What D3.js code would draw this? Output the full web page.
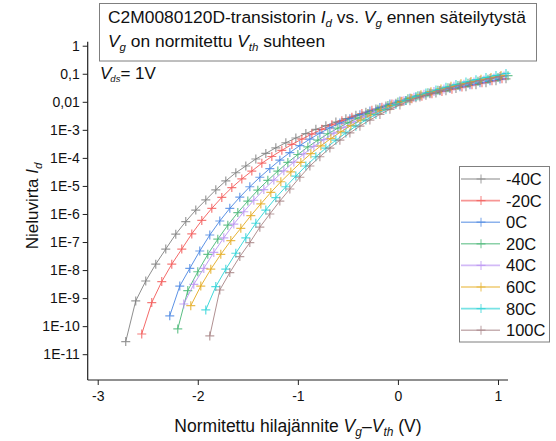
<!DOCTYPE html>
<html>
<head>
<meta charset="utf-8">
<script src="https://cdn.jsdelivr.net/npm/d3@7"></script>
<style>
  body { margin: 0; background: #fff; }
  svg { display: block; font-family: "Liberation Sans", Arial, sans-serif; }
</style>
</head>
<body>
<svg id="chart" width="556" height="441"></svg>
<script>
// Id vs normalised gate voltage, one curve per temperature.
// Currents as log10(Id) and turned back into amps.
var temps = ["-40C", "-20C", "0C", "20C", "40C", "60C", "80C", "100C"];
var colors = ["#7a7a7a", "#f2504f", "#3f7fe0", "#3db36e", "#b68cf2", "#e2a613", "#1fd0d4", "#a27c7e"];

var vM40 = [-2.72,-2.62,-2.52,-2.42,-2.32,-2.22,-2.12,-2.02,-1.92,-1.82,-1.72,-1.62,-1.52,-1.42,-1.32,-1.22,-1.12,-1.02,-0.92,-0.82,-0.72,-0.62,-0.52,-0.42,-0.32,-0.22,-0.12,-0.02,0.08,0.18,0.28,0.38,0.48,0.58,0.68,0.78,0.88,0.98,1.08];
var logIdM40 = [-10.55,-9.10,-8.39,-7.79,-7.25,-6.72,-6.27,-5.86,-5.50,-5.14,-4.82,-4.53,-4.29,-4.04,-3.84,-3.64,-3.46,-3.29,-3.13,-2.98,-2.85,-2.72,-2.60,-2.48,-2.37,-2.26,-2.15,-2.05,-1.95,-1.86,-1.77,-1.69,-1.61,-1.53,-1.46,-1.39,-1.32,-1.25,-1.18];

var vM20 = [-2.56,-2.46,-2.36,-2.26,-2.16,-2.06,-1.96,-1.86,-1.76,-1.66,-1.56,-1.46,-1.36,-1.26,-1.16,-1.06,-0.96,-0.86,-0.76,-0.66,-0.56,-0.46,-0.36,-0.26,-0.16,-0.06,0.04,0.14,0.24,0.34,0.44,0.54,0.64,0.74,0.84,0.94,1.04];
var logIdM20 = [-10.28,-9.16,-8.41,-7.79,-7.25,-6.71,-6.23,-5.80,-5.41,-5.06,-4.75,-4.47,-4.19,-3.95,-3.73,-3.52,-3.33,-3.15,-2.98,-2.82,-2.68,-2.55,-2.42,-2.30,-2.19,-2.08,-1.98,-1.89,-1.80,-1.71,-1.63,-1.55,-1.47,-1.39,-1.32,-1.25,-1.18];

var v0 = [-2.28,-2.18,-2.08,-1.98,-1.88,-1.78,-1.68,-1.58,-1.48,-1.38,-1.28,-1.18,-1.08,-0.98,-0.88,-0.78,-0.68,-0.58,-0.48,-0.38,-0.28,-0.18,-0.08,0.02,0.12,0.22,0.32,0.42,0.52,0.62,0.72,0.82,0.92,1.02];
var logId0 = [-9.63,-8.57,-7.94,-7.32,-6.75,-6.25,-5.80,-5.40,-5.03,-4.69,-4.38,-4.08,-3.81,-3.56,-3.33,-3.12,-2.93,-2.76,-2.60,-2.46,-2.33,-2.20,-2.08,-1.97,-1.87,-1.78,-1.69,-1.61,-1.53,-1.46,-1.39,-1.32,-1.25,-1.19];

var v20 = [-2.20,-2.10,-2.00,-1.90,-1.80,-1.70,-1.60,-1.50,-1.40,-1.30,-1.20,-1.10,-1.00,-0.90,-0.80,-0.70,-0.60,-0.50,-0.40,-0.30,-0.20,-0.10,0.00,0.10,0.20,0.30,0.40,0.50,0.60,0.70,0.80,0.90,1.00,1.10];
var logId20 = [-10.10,-8.73,-8.06,-7.44,-6.90,-6.40,-5.95,-5.54,-5.15,-4.80,-4.47,-4.16,-3.88,-3.61,-3.37,-3.14,-2.94,-2.75,-2.58,-2.42,-2.27,-2.13,-2.01,-1.89,-1.78,-1.68,-1.59,-1.50,-1.42,-1.34,-1.27,-1.20,-1.13,-1.07];

var v40 = [-2.14,-2.04,-1.94,-1.84,-1.74,-1.64,-1.54,-1.44,-1.34,-1.24,-1.14,-1.04,-0.94,-0.84,-0.74,-0.64,-0.54,-0.44,-0.34,-0.24,-0.14,-0.04,0.06,0.16,0.26,0.36,0.46,0.56,0.66,0.76,0.86,0.96,1.06];
var logId40 = [-9.21,-8.51,-7.94,-7.37,-6.85,-6.36,-5.92,-5.51,-5.13,-4.79,-4.46,-4.15,-3.86,-3.59,-3.35,-3.12,-2.91,-2.72,-2.54,-2.38,-2.23,-2.09,-1.96,-1.84,-1.73,-1.63,-1.54,-1.45,-1.37,-1.29,-1.22,-1.15,-1.08];

var v60 = [-2.07,-1.97,-1.87,-1.77,-1.67,-1.57,-1.47,-1.37,-1.27,-1.17,-1.07,-0.97,-0.87,-0.77,-0.67,-0.57,-0.47,-0.37,-0.27,-0.17,-0.07,0.03,0.13,0.23,0.33,0.43,0.53,0.63,0.73,0.83,0.93,1.03];
var logId60 = [-9.27,-8.57,-7.97,-7.44,-6.95,-6.51,-6.06,-5.64,-5.23,-4.85,-4.50,-4.16,-3.85,-3.57,-3.31,-3.07,-2.85,-2.65,-2.47,-2.30,-2.14,-2.00,-1.87,-1.75,-1.64,-1.54,-1.45,-1.36,-1.28,-1.20,-1.13,-1.06];

var v80 = [-1.92,-1.82,-1.72,-1.62,-1.52,-1.42,-1.32,-1.22,-1.12,-1.02,-0.92,-0.82,-0.72,-0.62,-0.52,-0.42,-0.32,-0.22,-0.12,-0.02,0.08,0.18,0.28,0.38,0.48,0.58,0.68,0.78,0.88,0.98,1.08];
var logId80 = [-9.42,-8.59,-7.97,-7.40,-6.85,-6.33,-5.86,-5.42,-5.03,-4.65,-4.29,-3.96,-3.65,-3.37,-3.11,-2.87,-2.65,-2.45,-2.27,-2.10,-1.95,-1.81,-1.69,-1.58,-1.48,-1.38,-1.29,-1.21,-1.13,-1.06,-0.99];

var v100 = [-1.88,-1.78,-1.68,-1.58,-1.48,-1.38,-1.28,-1.18,-1.08,-0.98,-0.88,-0.78,-0.68,-0.58,-0.48,-0.38,-0.28,-0.18,-0.08,0.02,0.12,0.22,0.32,0.42,0.52,0.62,0.72,0.82,0.92,1.02];
var logId100 = [-10.35,-8.71,-8.09,-7.52,-7.02,-6.47,-6.00,-5.54,-5.11,-4.69,-4.29,-3.96,-3.65,-3.37,-3.11,-2.87,-2.65,-2.45,-2.27,-2.11,-1.96,-1.83,-1.71,-1.60,-1.50,-1.41,-1.32,-1.24,-1.17,-1.10];

var xTicks = [-3, -2, -1, 0, 1];
var xMinor = [-2.5, -1.5, -0.5, 0.5];
var yTicks = [1, 1e-1, 1e-2, 1e-3, 1e-4, 1e-5, 1e-6, 1e-7, 1e-8, 1e-9, 1e-10, 1e-11];
var yTickLabels = ["1", "0,1", "0,01", "1E-3", "1E-4", "1E-5", "1E-6", "1E-7", "1E-8", "1E-9", "1E-10", "1E-11"];

var xs = [vM40, vM20, v0, v20, v40, v60, v80, v100];
var logs = [logIdM40, logIdM20, logId0, logId20, logId40, logId60, logId80, logId100];
var series = temps.map(function (t, i) {
  return {
    name: t,
    color: colors[i],
    points: xs[i].map(function (v, j) { return { v: v, id: Math.pow(10, logs[i][j]) }; })
  };
});

var svg = d3.select("#chart");
var plotLeft = 87.7, plotRight = 508, plotTop = 41.7, plotBottom = 380;

var x = d3.scaleLinear().domain([-3.1, 1.1]).range([plotLeft, plotRight]);
var y = d3.scaleLog().domain([Math.pow(10, -11.92), Math.pow(10, 0.143)]).range([plotBottom, plotTop]);

// minor ticks: 2..9 of every decade that falls inside the axis
var yMinor = [];
for (var e = -12; e <= 0; e++) {
  for (var m = 2; m <= 9; m++) {
    var val = m * Math.pow(10, e);
    if (val >= y.domain()[0] && val <= y.domain()[1]) yMinor.push(val);
  }
}

var axisColor = "#222";

// y axis
var gy = svg.append("g").attr("transform", "translate(" + plotLeft + ",0)");
gy.call(d3.axisLeft(y).tickValues(yMinor).tickSize(3).tickFormat(""));
gy.call(d3.axisLeft(y).tickValues(yTicks).tickSize(5).tickPadding(3)
  .tickFormat(function (d, i) { return yTickLabels[i]; }));

// x axis
var gx = svg.append("g").attr("transform", "translate(0," + plotBottom + ")");
gx.call(d3.axisBottom(x).tickValues(xMinor).tickSize(3).tickFormat(""));
gx.call(d3.axisBottom(x).tickValues(xTicks).tickSize(5).tickPadding(6)
  .tickFormat(function (d) { return d3.format("d")(d).replace("\u2212", "-"); }));

svg.selectAll(".domain").attr("stroke", axisColor).attr("stroke-width", 1.2);
svg.selectAll(".tick line").attr("stroke", axisColor);
svg.selectAll(".tick text").attr("fill", "#111").style("font-size", "14px")
  .style("font-family", "\"Liberation Sans\", Arial, sans-serif");
// x axis line runs to the right end, y line to the top, no outer end ticks
gx.select(".domain").attr("d", "M" + plotLeft + ",0H" + plotRight);
gy.select(".domain").attr("d", "M0," + plotTop + "V" + plotBottom);

// curves
var line = d3.line().x(function (d) { return x(d.v); }).y(function (d) { return y(d.id); });
var cross = "M-4.5,0H4.5M0,-4.5V4.5";

var curves = svg.append("g");
series.forEach(function (s) {
  var g = curves.append("g");
  g.append("path").datum(s.points)
    .attr("d", line).attr("fill", "none")
    .attr("stroke", s.color).attr("stroke-width", 1).attr("stroke-opacity", 0.85);
  g.selectAll("path.pt").data(s.points).join("path")
    .attr("class", "pt")
    .attr("d", cross)
    .attr("transform", function (d) { return "translate(" + x(d.v) + "," + y(d.id) + ")"; })
    .attr("stroke", s.color).attr("stroke-width", 1.2).attr("stroke-opacity", 0.75);
});

// title box
svg.append("rect").attr("x", 99.5).attr("y", 3.5).attr("width", 437).attr("height", 57.5)
  .attr("fill", "#fff").attr("stroke", "#7f7f7f").attr("stroke-width", 1);

var fsTitle = "17.4px", fsSub = "11.5px";
var t1 = svg.append("text").attr("x", 108).attr("y", 22.5).style("font-size", fsTitle).attr("fill", "#111");
t1.append("tspan").text("C2M0080120D-transistorin ");
t1.append("tspan").attr("font-style", "italic").text("I");
t1.append("tspan").attr("font-style", "italic").attr("font-size", fsSub).attr("dy", 4).text("d");
t1.append("tspan").attr("dy", -4).text(" vs. ");
t1.append("tspan").attr("font-style", "italic").text("V");
t1.append("tspan").attr("font-style", "italic").attr("font-size", fsSub).attr("dy", 4).text("g");
t1.append("tspan").attr("dy", -4).text(" ennen säteilytystä");

var t2 = svg.append("text").attr("x", 108).attr("y", 47).style("font-size", fsTitle).attr("fill", "#111");
t2.append("tspan").attr("font-style", "italic").text("V");
t2.append("tspan").attr("font-style", "italic").attr("font-size", fsSub).attr("dy", 4).text("g");
t2.append("tspan").attr("dy", -4).text(" on normitettu ");
t2.append("tspan").attr("font-style", "italic").text("V");
t2.append("tspan").attr("font-style", "italic").attr("font-size", fsSub).attr("dy", 4).text("th");
t2.append("tspan").attr("dy", -4).text(" suhteen");

// Vds note
var t3 = svg.append("text").attr("x", 100).attr("y", 78.5).style("font-size", "17px").attr("fill", "#111");
t3.append("tspan").attr("font-style", "italic").text("V");
t3.append("tspan").attr("font-style", "italic").attr("font-size", "9.5px").attr("dy", 3).attr("dx", -1).text("ds");
t3.append("tspan").attr("dy", -3).text("= 1V");

// axis titles
var yt = svg.append("text").attr("transform", "translate(38,206) rotate(-90)")
  .attr("text-anchor", "middle").style("font-size", "17px").attr("fill", "#111");
yt.append("tspan").text("Nieluvirta ");
yt.append("tspan").attr("font-style", "italic").text("I");
yt.append("tspan").attr("font-style", "italic").attr("font-size", "11.5px").attr("dy", 4).text("d");

var xt = svg.append("text").attr("x", 298).attr("y", 431.5)
  .attr("text-anchor", "middle").style("font-size", "17.5px").attr("fill", "#111");
xt.append("tspan").text("Normitettu hilajännite ");
xt.append("tspan").attr("font-style", "italic").text("V");
xt.append("tspan").attr("font-style", "italic").attr("font-size", "12px").attr("dy", 4).text("g");
xt.append("tspan").attr("dy", -4).text("\u2013");
xt.append("tspan").attr("font-style", "italic").text("V");
xt.append("tspan").attr("font-style", "italic").attr("font-size", "12px").attr("dy", 4).text("th");
xt.append("tspan").attr("dy", -4).text(" (V)");

// legend
var lg = svg.append("g");
lg.append("rect").attr("x", 459.5).attr("y", 166.5).attr("width", 90).attr("height", 175.5)
  .attr("fill", "#fff").attr("stroke", "#7f7f7f").attr("stroke-width", 1);
series.forEach(function (s, i) {
  var cy = 179 + i * 21.6;
  lg.append("line").attr("x1", 461).attr("x2", 500).attr("y1", cy).attr("y2", cy)
    .attr("stroke", s.color).attr("stroke-width", 1.6).attr("stroke-opacity", 0.6);
  lg.append("path").attr("d", cross).attr("transform", "translate(481," + cy + ")")
    .attr("stroke", s.color).attr("stroke-width", 1.2).attr("stroke-opacity", 0.6);
  lg.append("text").attr("x", 506).attr("y", cy + 6).style("font-size", "16.5px")
    .attr("fill", "#111").text(s.name);
});
</script>
</body>
</html>
